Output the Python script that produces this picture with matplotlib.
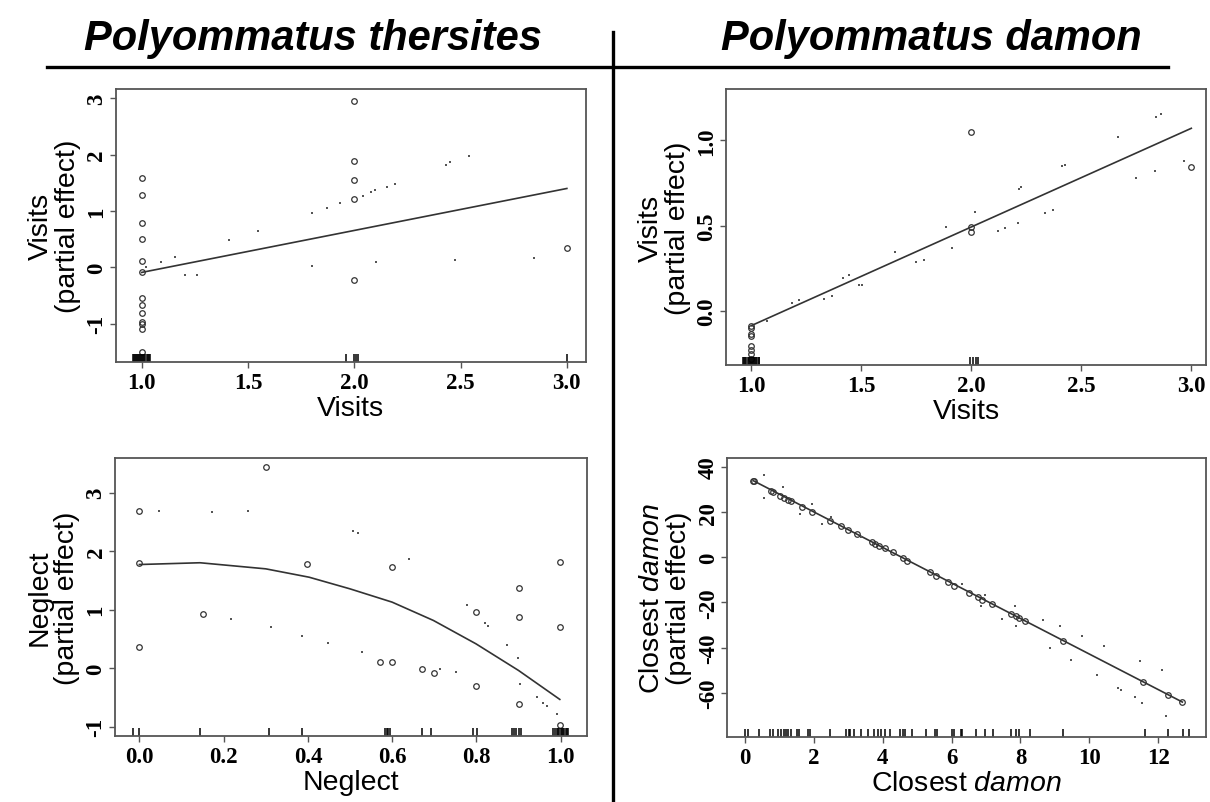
"""Partial-effect panels for Polyommatus thersites and P. damon."""

import matplotlib

matplotlib.use("Agg")
import matplotlib.pyplot as plt
from matplotlib.lines import Line2D

plt.rcParams["font.family"] = ["Liberation Sans", "DejaVu Sans"]
plt.rcParams["mathtext.fontset"] = "custom"
plt.rcParams["mathtext.rm"] = "Liberation Sans"
plt.rcParams["mathtext.it"] = "Liberation Sans:italic"

# ---- P. thersites, Visits ----
tv_circ_x = [1.0] * 13 + [2.0] * 5 + [3.0]
tv_circ_y = [1.594, 1.288, 0.794, 0.50, 0.106, -0.088, -0.547, -0.676, -0.806,
             -0.97, -1.01, -1.10, -1.51, 2.96, 1.89, 1.547, 1.21, -0.23, 0.335]
tv_dot_x = [1.02, 1.09, 1.157, 1.204, 1.259, 1.413, 1.549, 1.803, 1.80, 1.871, 1.933,
            2.04, 2.08, 2.098, 2.156, 2.19, 2.10, 2.43, 2.45, 2.54, 2.476, 2.846]
tv_dot_y = [0.0, 0.094, 0.18, -0.14, -0.13, 0.49, 0.653, 0.97, 0.03, 1.06, 1.135,
            1.27, 1.335, 1.37, 1.43, 1.476, 0.10, 1.82, 1.865, 1.97, 0.13, 0.16]
tv_fit_x = [1.0, 3.0]
tv_fit_y = [-0.09, 1.40]
tv_rug = [0.958, 0.963, 0.968, 0.973, 0.978, 0.983, 0.988, 0.993, 0.998, 1.003,
          1.008, 1.013, 1.018, 1.023, 1.028, 1.033, 1.038, 1.96, 2.0, 2.01, 2.02, 3.0]

# ---- P. damon, Visits ----
dv_circ_x = [1.0] * 8 + [2.0] * 3 + [3.0]
dv_circ_y = [-0.086, -0.102, -0.135, -0.145, -0.203, -0.227, -0.252, -0.281,
             1.049, 0.494, 0.461, 0.842]
dv_dot_x = [1.072, 1.186, 1.214, 1.332, 1.366, 1.418, 1.445, 1.487, 1.503, 1.652,
            1.747, 1.783, 1.885, 1.912, 2.016, 2.121, 2.153, 2.211, 2.215, 2.226,
            2.336, 2.373, 2.412, 2.425, 2.668, 2.75, 2.836, 2.84, 2.863, 2.967]
dv_dot_y = [-0.057, 0.047, 0.064, 0.07, 0.088, 0.193, 0.213, 0.154, 0.154, 0.344,
            0.285, 0.299, 0.494, 0.369, 0.578, 0.471, 0.486, 0.516, 0.715, 0.725,
            0.574, 0.592, 0.848, 0.855, 1.018, 0.777, 0.822, 1.135, 1.152, 0.88]
dv_fit_x = [1.0, 3.0]
dv_fit_y = [-0.085, 1.07]
dv_rug = [0.962, 0.967, 0.972, 0.977, 0.982, 0.987, 0.992, 0.997, 1.002, 1.007,
          1.012, 1.017, 1.022, 1.027, 1.032, 1.036, 1.995, 2.008, 2.019, 2.03]

# ---- P. thersites, Neglect ----
tn_circ_x = [0.0, 0.0, 0.0, 0.30, 0.150, 0.399, 0.57, 0.60, 0.60, 0.67, 0.699,
             0.799, 0.799, 0.90, 0.90, 0.90, 0.998, 0.998, 0.998]
tn_circ_y = [2.68, 1.79, 0.358, 3.43, 0.916, 1.78, 0.102, 1.724, 0.102, -0.023,
             -0.08, 0.967, -0.307, 1.37, 0.87, -0.61, 1.81, 0.706, -0.98]
tn_dot_x = [0.047, 0.173, 0.257, 0.217, 0.312, 0.385, 0.447, 0.506, 0.518, 0.529,
            0.641, 0.714, 0.752, 0.778, 0.82, 0.827, 0.872, 0.898, 0.904, 0.943,
            0.957, 0.967, 0.991]
tn_dot_y = [2.69, 2.66, 2.68, 0.84, 0.694, 0.546, 0.432, 2.344, 2.30, 0.273,
            1.866, -0.023, -0.068, 1.07, 0.774, 0.717, 0.387, 0.171, -0.267, -0.495,
            -0.592, -0.649, -0.79]
tn_fit_x = [0.0, 0.144, 0.30, 0.403, 0.50, 0.60, 0.698, 0.799, 0.90, 0.998]
tn_fit_y = [1.77, 1.80, 1.696, 1.553, 1.354, 1.127, 0.814, 0.415, -0.04, -0.535]
tn_rug = [-0.016, 0.0, 0.144, 0.308, 0.385, 0.583, 0.587, 0.591, 0.595, 0.670,
          0.692, 0.791, 0.802, 0.884, 0.889, 0.894, 0.90, 0.905, 0.981, 0.987,
          0.991, 0.994, 0.997, 1.0, 1.003, 1.006, 1.009, 1.012, 1.015, 1.018]

# ---- P. damon, Closest damon ----
dc_circ_x = [0.25, 0.27, 0.75, 0.83, 1.03, 1.15, 1.25, 1.35, 1.67, 1.95, 2.48, 2.80,
             3.0, 3.26, 3.69, 3.79, 3.88, 4.06, 4.29, 4.59, 4.71, 5.38, 5.56, 5.91,
             6.08, 6.51, 6.76, 6.89, 7.16, 7.72, 7.87, 7.97, 8.12, 9.24, 11.57,
             12.29, 12.70]
dc_circ_y = [33.9, 33.7, 29.5, 29.1, 27.3, 26.3, 25.5, 24.8, 22.4, 20.2, 16.1, 13.7,
             11.9, 10.2, 6.6, 5.9, 5.2, 4.0, 2.2, -0.4, -1.5, -6.6, -8.1, -11.1,
             -12.5, -15.8, -17.7, -18.7, -20.8, -25.1, -26.1, -27.0, -28.0, -36.9,
             -55.3, -61.2, -64.1]
dc_dot_x = [0.55, 0.55, 1.10, 1.60, 1.95, 2.25, 2.50, 3.36, 6.31, 6.86, 6.96, 7.47,
            7.85, 7.87, 8.65, 8.85, 9.15, 9.47, 9.79, 10.22, 10.42, 10.82, 10.92,
            11.32, 11.52, 11.47, 12.12, 12.22]
dc_dot_y = [36.4, 26.1, 31.3, 19.2, 23.6, 14.7, 18.0, 8.8, -11.8, -21.4, -16.5, -27.3,
            -21.7, -30.5, -27.6, -40.1, -30.5, -45.4, -34.7, -52.1, -39.1, -57.8,
            -58.7, -61.9, -64.5, -45.7, -50.1, -70.4]
dc_fit_x = [0.25, 12.70]
dc_fit_y = [33.9, -64.1]
dc_rug = [0.0, 0.1, 0.4, 0.73, 0.83, 0.95, 1.05, 1.15, 1.2, 1.25, 1.35, 1.5, 1.57,
          1.83, 1.9, 2.46, 2.94, 3.01, 3.06, 3.16, 3.36, 3.56, 3.76, 3.86, 3.96, 4.08,
          4.21, 4.51, 4.58, 4.64, 4.84, 5.26, 5.51, 5.58, 6.01, 6.08, 6.26, 6.31,
          6.71, 6.96, 7.19, 7.72, 7.87, 7.97, 8.27, 9.24, 11.62, 12.27, 12.72, 12.9]

titles = ["Polyommatus thersites", "Polyommatus damon"]

SPINE = "#555555"
TICKFONT = {"family": "Liberation Serif", "weight": "bold", "size": 16.5}


def draw_panel(ax, cx, cy, dx, dy, fx, fy, rug, xlim, ylim, xticks, yticks,
               xfmt, yfmt, xlabel, ylabel):
    ax.plot(fx, fy, color="#333333", lw=1.2)
    ax.plot(dx, dy, ls="none", marker="s", ms=1.6, mew=0, color="#555555")
    ax.plot(cx, cy, ls="none", marker="o", ms=4.0, mfc="none", mec="#333333", mew=0.9)
    ax.vlines(rug, 0, 0.028, transform=ax.get_xaxis_transform(), color="black", lw=1.1)
    ax.set_xlim(*xlim)
    ax.set_ylim(*ylim)
    ax.set_xticks(xticks)
    ax.set_xticklabels([xfmt.format(v) for v in xticks], fontdict=TICKFONT)
    ax.set_yticks(yticks)
    ax.set_yticklabels([yfmt.format(v) for v in yticks], fontdict=TICKFONT,
                       rotation=90, va="center")
    for sp in ax.spines.values():
        sp.set_color(SPINE)
        sp.set_linewidth(1.3)
    ax.tick_params(direction="out", length=4.5, width=1.0, color=SPINE)
    ax.tick_params(axis="x", pad=3)
    ax.tick_params(axis="y", pad=1.5)
    ax.set_xlabel(xlabel, fontsize=20.5, labelpad=1)
    ax.set_ylabel(ylabel, fontsize=20.5, labelpad=4, linespacing=1.05)


fig = plt.figure(figsize=(12.1, 8.03), dpi=100)

ax_tl = fig.add_axes([0.0956, 0.5479, 0.3887, 0.3400])
ax_tr = fig.add_axes([0.5998, 0.5442, 0.3973, 0.3437])
ax_bl = fig.add_axes([0.0950, 0.0822, 0.3901, 0.3462])
ax_br = fig.add_axes([0.6008, 0.0809, 0.3963, 0.3475])

draw_panel(ax_tl, tv_circ_x, tv_circ_y, tv_dot_x, tv_dot_y, tv_fit_x, tv_fit_y, tv_rug,
           (0.878, 3.09), (-1.68, 3.165), [1.0, 1.5, 2.0, 2.5, 3.0], [-1, 0, 1, 2, 3],
           "{:.1f}", "{:d}", "Visits", "Visits\n(partial effect)")
draw_panel(ax_tr, dv_circ_x, dv_circ_y, dv_dot_x, dv_dot_y, dv_fit_x, dv_fit_y, dv_rug,
           (0.883, 3.069), (-0.316, 1.30), [1.0, 1.5, 2.0, 2.5, 3.0], [0.0, 0.5, 1.0],
           "{:.1f}", "{:.1f}", "Visits", "Visits\n(partial effect)")
draw_panel(ax_bl, tn_circ_x, tn_circ_y, tn_dot_x, tn_dot_y, tn_fit_x, tn_fit_y, tn_rug,
           (-0.058, 1.0625), (-1.16, 3.59), [0.0, 0.2, 0.4, 0.6, 0.8, 1.0],
           [-1, 0, 1, 2, 3], "{:.1f}", "{:d}", "Neglect", "Neglect\n(partial effect)")
draw_panel(ax_br, dc_circ_x, dc_circ_y, dc_dot_x, dc_dot_y, dc_fit_x, dc_fit_y, dc_rug,
           (-0.52, 13.4), (-79.6, 44.0), [0, 2, 4, 6, 8, 10, 12],
           [-60, -40, -20, 0, 20, 40], "{:d}", "{:d}",
           r"Closest $\mathit{damon}$", "Closest $\\mathit{damon}$\n(partial effect)")

# column headers and divider lines
fig.text(0.259, 0.9377, titles[0], ha="center", va="baseline", fontsize=30,
         fontweight="bold", fontstyle="italic")
fig.text(0.770, 0.9377, titles[1], ha="center", va="baseline", fontsize=30,
         fontweight="bold", fontstyle="italic")
fig.add_artist(Line2D([0.0388, 0.9653], [0.9153, 0.9153], color="black", lw=2.4))
fig.add_artist(Line2D([0.5066, 0.5066], [0.0, 0.959], color="black", lw=2.4))

fig.savefig("out.png", dpi=100, facecolor="white")
plt.close(fig)
